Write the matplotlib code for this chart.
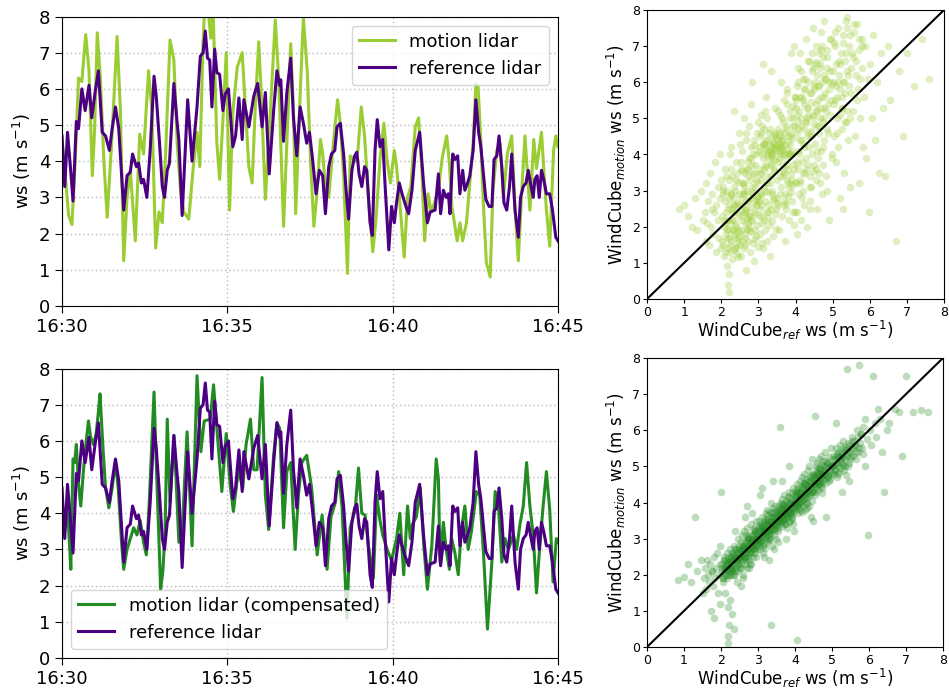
import numpy as np
import matplotlib
matplotlib.use("Agg")
import matplotlib.pyplot as plt
import matplotlib.dates as mdates
from datetime import datetime, timedelta

# ---------------- time series data (seconds after 16:30, wind speed m/s) ----------------
ref_t = [0, 5, 10, 16, 20, 26, 30, 36, 42, 49, 54, 60, 66, 73, 79, 86, 91, 97, 103, 112,
         118, 124, 128, 135, 139, 144, 148, 154, 160, 167, 171, 177, 182, 186, 191, 195, 203, 209, 212, 218,
         228, 236, 245, 251, 256, 260, 264, 268, 272, 277, 281, 286, 292, 296, 302, 310, 315, 321, 327, 330,
         339, 348, 355, 363, 369, 376, 384, 390, 395, 397, 402, 408, 415, 420, 426, 432, 438, 444, 449, 454,
         461, 467, 473, 478, 484, 489, 495, 499, 505, 511, 515, 520, 526, 531, 535, 539, 544, 549, 553, 559,
         563, 568, 572, 577, 582, 586, 593, 598, 603, 607, 612, 617, 623, 629, 635, 641, 649, 656, 663, 668,
         677, 683, 687, 692, 697, 701, 704, 709, 713, 718, 722, 727, 731, 736, 740, 746, 751, 756, 760, 765,
         769, 775, 780, 784, 789, 793, 798, 802, 807, 812, 816, 822, 828, 832, 837, 842, 846, 850, 855, 858,
         862, 866, 870, 874, 879, 885, 890, 896, 900]
ref_ws = [4.7, 3.3, 4.8, 3.7, 2.9, 5.1, 4.9, 6.0, 5.4, 6.1, 5.2, 5.9, 6.5, 4.8, 4.7, 4.3, 4.9, 5.5, 4.9, 2.65,
          3.6, 3.7, 4.2, 3.85, 3.95, 3.4, 3.5, 3.0, 4.3, 6.35, 5.8, 4.5, 3.3, 3.0, 3.75, 3.95, 6.15, 5.05, 4.6, 2.5,
          5.7, 4.0, 5.5, 6.9, 7.0, 7.6, 6.85, 6.8, 5.5, 7.1, 6.45, 6.4, 5.4, 5.85, 6.0, 4.4, 4.7, 5.75, 4.6, 5.7,
          4.95, 5.8, 6.15, 4.95, 5.9, 3.65, 5.4, 6.5, 6.1, 6.25, 4.55, 5.9, 6.85, 5.2, 4.15, 5.5, 5.05, 4.5, 4.8, 4.15,
          3.1, 3.75, 3.6, 2.55, 3.85, 4.2, 4.3, 4.95, 5.05, 4.2, 3.3, 2.4, 3.75, 4.15, 4.25, 3.65, 3.3, 3.85, 3.75, 2.3,
          1.95, 4.3, 5.15, 4.4, 4.6, 3.4, 1.55, 2.75, 2.3, 2.85, 3.4, 3.1, 2.8, 2.55, 3.2, 4.3, 4.8, 3.4, 2.3, 2.6,
          2.65, 3.65, 2.55, 3.2, 3.0, 3.1, 2.55, 4.2, 4.05, 4.15, 3.1, 3.75, 3.2, 3.4, 3.6, 4.3, 5.7, 4.8, 4.4, 3.6,
          2.95, 2.75, 2.75, 4.05, 4.15, 4.7, 3.85, 2.85, 2.65, 3.3, 4.2, 2.65, 1.9, 3.0, 3.3, 3.4, 3.75, 3.4, 3.0, 3.5,
          3.6, 3.0, 3.75, 3.5, 3.1, 3.1, 2.65, 1.9, 1.8]

motion_t = [0, 6, 12, 18, 24, 30, 36, 43, 49, 55, 59, 64, 70, 76, 82, 90, 100, 106, 112, 118,
            124, 133, 141, 148, 157, 163, 170, 176, 182, 188, 196, 203, 209, 215, 221, 230, 238, 245, 250, 256,
            260, 265, 270, 274, 281, 286, 292, 298, 304, 310, 318, 327, 333, 339, 345, 351, 357, 361, 369, 378,
            387, 393, 402, 408, 415, 420, 424, 432, 438, 445, 451, 457, 462, 469, 473, 478, 484, 493, 500, 505,
            511, 518, 523, 532, 537, 543, 549, 556, 564, 570, 577, 584, 590, 596, 603, 607, 613, 621, 627, 633,
            641, 647, 653, 658, 664, 670, 677, 683, 690, 698, 703, 707, 713, 717, 722, 727, 734, 740, 746, 751,
            755, 760, 764, 770, 777, 782, 789, 795, 801, 808, 816, 822, 828, 834, 840, 849, 856, 861, 870, 879,
            885, 892, 896, 900]
motion_ws = [4.6, 3.6, 2.5, 2.25, 4.0, 6.3, 6.2, 7.5, 6.5, 3.6, 4.8, 7.55, 6.2, 4.0, 2.45, 4.5, 7.45, 5.4, 1.25, 3.0,
             3.75, 1.8, 4.75, 4.2, 6.5, 5.4, 1.6, 2.6, 2.3, 4.2, 7.35, 6.8, 4.5, 3.2, 2.6, 2.4, 3.8, 4.8, 3.85, 7.3,
             8.6, 8.2, 7.4, 8.3, 4.5, 3.5, 5.15, 7.0, 2.65, 5.35, 6.6, 7.0, 5.4, 3.85, 3.4, 5.6, 7.3, 6.05, 2.95, 5.35,
             7.9, 6.35, 2.2, 4.5, 7.25, 5.4, 2.55, 5.8, 7.95, 6.5, 4.0, 2.2, 3.0, 4.6, 4.2, 3.3, 3.0, 4.6, 5.7, 5.05,
             3.6, 0.9, 4.15, 4.0, 4.3, 5.5, 4.7, 3.0, 1.5, 2.45, 4.05, 5.05, 4.0, 3.4, 4.3, 3.85, 2.85, 1.35, 3.0, 3.3,
             4.95, 5.2, 3.75, 1.8, 3.1, 2.6, 2.9, 3.2, 4.1, 4.7, 3.95, 2.8, 2.2, 1.8, 2.3, 1.8, 2.3, 3.4, 4.5, 6.15,
             6.05, 4.6, 3.0, 1.2, 0.8, 3.2, 4.3, 4.5, 3.0, 4.2, 4.7, 2.7, 1.25, 3.1, 4.7, 2.65, 4.6, 3.8, 4.8, 2.65,
             1.65, 4.3, 4.7, 4.4]

comp_t = [0, 4, 8, 12, 16, 20, 23, 26, 30, 34, 39, 44, 48, 52, 57, 62, 66, 69, 74, 79,
          85, 91, 97, 102, 108, 112, 118, 124, 130, 136, 142, 148, 153, 158, 167, 172, 179, 183, 187, 191,
          196, 203, 207, 212, 218, 227, 236, 245, 252, 258, 269, 275, 281, 290, 298, 305, 311, 320, 328, 334,
          342, 348, 354, 363, 369, 375, 384, 390, 395, 402, 408, 415, 423, 429, 435, 444, 453, 463, 472, 481,
          488, 496, 502, 508, 517, 523, 532, 538, 544, 550, 556, 565, 571, 577, 582, 590, 598, 607, 613, 620,
          627, 632, 636, 643, 650, 657, 663, 671, 679, 683, 686, 692, 697, 703, 707, 713, 719, 725, 731, 737,
          743, 752, 758, 765, 772, 780, 786, 792, 798, 804, 810, 819, 825, 831, 837, 843, 849, 855, 861, 867,
          873, 879, 885, 891, 897, 900]
comp_ws = [4.3, 3.4, 4.2, 3.6, 2.45, 5.5, 5.4, 5.9, 4.8, 4.2, 5.2, 6.0, 6.55, 6.1, 5.9, 6.2, 6.8, 7.3, 5.9, 4.7,
           4.15, 4.7, 5.4, 4.7, 3.2, 2.45, 3.0, 3.3, 3.6, 3.4, 3.8, 3.2, 2.85, 4.2, 7.35, 4.95, 1.9, 2.4, 3.5, 6.6,
           4.3, 6.15, 4.95, 3.2, 3.5, 6.25, 3.1, 7.8, 5.7, 6.55, 6.6, 7.55, 6.35, 4.6, 6.2, 4.8, 4.05, 5.2, 4.7, 5.9,
           6.6, 5.2, 5.2, 7.75, 4.5, 3.55, 5.6, 6.5, 6.35, 3.6, 5.15, 5.4, 3.0, 4.5, 5.4, 5.6, 4.7, 2.85, 3.95, 2.45,
           3.9, 4.3, 5.15, 4.2, 1.1, 3.6, 4.1, 5.25, 4.0, 3.95, 3.1, 2.2, 4.5, 3.8, 3.4, 3.0, 2.7, 3.3, 4.0, 2.3,
           4.2, 3.3, 3.7, 3.9, 4.7, 3.0, 1.9, 3.1, 5.5, 4.95, 2.65, 3.75, 3.0, 2.45, 3.3, 2.9, 2.3, 3.6, 4.2, 3.0,
           3.5, 4.6, 4.5, 2.85, 0.8, 2.65, 4.6, 4.2, 2.65, 3.3, 3.0, 3.4, 3.0, 3.7, 4.2, 5.4, 4.2, 3.4, 1.8, 3.1,
           4.2, 5.15, 4.1, 2.1, 3.3, 3.2]

# ---------------- scatter data (ref ws vs motion ws / compensated ws) ----------------
scatter_ref = [
    0.85, 1.0, 1.1, 1.2, 1.3, 1.35, 1.45, 1.5,
    1.55, 1.58, 1.6, 1.62, 1.65, 1.68, 1.7, 1.72, 1.75, 1.78, 1.8, 1.82, 1.85, 1.87, 1.9, 1.92, 1.94, 1.96, 1.97, 1.98, 1.99, 1.76,
    2.02, 2.04, 2.05, 2.07, 2.08, 2.1, 2.11, 2.12, 2.13, 2.15, 2.16, 2.17, 2.18, 2.19, 2.2, 2.2, 2.21, 2.22, 2.22, 2.23,
    2.24, 2.25, 2.26, 2.27, 2.28, 2.29, 2.3, 2.31, 2.32, 2.33, 2.34, 2.35, 2.36, 2.37, 2.38, 2.39, 2.4, 2.41, 2.42, 2.43,
    2.44, 2.45, 2.46, 2.47, 2.48, 2.49, 2.25, 2.15, 2.35, 2.45,
    2.51, 2.52, 2.53, 2.54, 2.55, 2.56, 2.57, 2.58, 2.59, 2.6, 2.61, 2.62, 2.63, 2.64, 2.65, 2.66, 2.67, 2.68, 2.69, 2.7,
    2.71, 2.72, 2.73, 2.74, 2.75, 2.76, 2.77, 2.78, 2.79, 2.8, 2.81, 2.82, 2.83, 2.84, 2.85, 2.86, 2.87, 2.88, 2.89, 2.9,
    2.91, 2.92, 2.93, 2.94, 2.95, 2.96, 2.97, 2.98, 2.99, 2.55, 2.65, 2.75, 2.85, 2.95, 2.6, 2.7, 2.8, 2.9, 2.58, 2.72,
    3.01, 3.02, 3.03, 3.04, 3.05, 3.06, 3.07, 3.08, 3.09, 3.1, 3.11, 3.12, 3.13, 3.14, 3.15, 3.16, 3.17, 3.18, 3.19, 3.2,
    3.21, 3.22, 3.23, 3.24, 3.25, 3.26, 3.27, 3.28, 3.29, 3.3, 3.31, 3.32, 3.33, 3.34, 3.35, 3.36, 3.37, 3.38, 3.39, 3.4,
    3.41, 3.42, 3.43, 3.44, 3.45, 3.46, 3.47, 3.48, 3.49, 3.05, 3.15, 3.25, 3.35, 3.45, 3.1, 3.2, 3.3, 3.4, 3.12, 3.38,
    3.51, 3.52, 3.53, 3.54, 3.55, 3.56, 3.57, 3.58, 3.59, 3.6, 3.61, 3.62, 3.63, 3.64, 3.65, 3.66, 3.67, 3.68, 3.69, 3.7,
    3.71, 3.72, 3.73, 3.74, 3.75, 3.76, 3.77, 3.78, 3.79, 3.8, 3.81, 3.82, 3.83, 3.84, 3.85, 3.86, 3.87, 3.88, 3.89, 3.9,
    3.91, 3.92, 3.93, 3.94, 3.95, 3.96, 3.97, 3.98, 3.99, 3.55, 3.65, 3.75, 3.85, 3.95, 3.6,
    4.01, 4.02, 4.03, 4.04, 4.05, 4.06, 4.07, 4.08, 4.09, 4.1, 4.11, 4.12, 4.13, 4.14, 4.15, 4.16, 4.17, 4.18, 4.19, 4.2,
    4.21, 4.22, 4.23, 4.24, 4.25, 4.26, 4.27, 4.28, 4.29, 4.3, 4.31, 4.32, 4.33, 4.34, 4.35, 4.36, 4.37, 4.38, 4.39, 4.4,
    4.41, 4.42, 4.43, 4.44, 4.45, 4.46, 4.47, 4.48, 4.49, 4.05,
    4.51, 4.52, 4.53, 4.54, 4.55, 4.56, 4.57, 4.58, 4.59, 4.6, 4.61, 4.62, 4.63, 4.64, 4.65, 4.66, 4.67, 4.68, 4.69, 4.7,
    4.71, 4.72, 4.73, 4.74, 4.75, 4.76, 4.77, 4.78, 4.79, 4.8, 4.82, 4.84, 4.86, 4.88, 4.9, 4.92, 4.94, 4.96, 4.98, 4.99,
    4.55, 4.85,
    5.02, 5.04, 5.05, 5.07, 5.09, 5.1, 5.12, 5.14, 5.15, 5.17, 5.19, 5.2, 5.22, 5.24, 5.25, 5.27, 5.29, 5.3, 5.32, 5.34,
    5.35, 5.37, 5.39, 5.4, 5.42, 5.44, 5.45, 5.47, 5.49, 5.12, 5.28, 5.4,
    5.52, 5.55, 5.58, 5.6, 5.63, 5.65, 5.68, 5.7, 5.72, 5.75, 5.78, 5.8, 5.83, 5.85, 5.88, 5.9, 5.94, 5.97,
    6.02, 6.06, 6.1, 6.15, 6.2, 6.25, 6.3, 6.35, 6.4, 6.48,
    6.55, 6.7, 6.8, 6.9, 7.0, 7.2, 7.4, 7.6]

scatter_motion = [
    2.5, 2.6, 2.3, 2.0, 2.8, 1.9, 3.0, 2.2,
    2.4, 1.6, 3.2, 2.1, 2.7, 1.5, 3.5, 2.0, 2.9, 1.8, 2.4, 3.8, 1.3, 2.6, 3.1, 2.2, 1.7, 4.0, 2.8, 1.4, 3.3, 2.5,
    2.3, 1.5, 3.1, 2.0, 1.2, 2.7, 3.6, 1.8, 2.4, 0.9, 3.0, 2.2, 1.4, 0.4, 0.2, 2.6, 1.7, 3.3, 0.7, 2.1,
    1.3, 2.9, 4.2, 1.6, 2.5, 1.1, 3.4, 1.9, 2.8, 1.35, 2.2, 5.2, 1.7, 3.0, 2.4, 1.45, 3.8, 2.05, 1.25, 2.65,
    1.85, 3.25, 1.55, 4.6, 2.35, 1.75, 2.9, 1.95, 2.6, 1.15,
    1.5, 2.8, 3.6, 1.2, 2.2, 4.1, 1.9, 2.6, 3.2, 1.4, 2.9, 5.0, 2.1, 3.5, 1.7, 2.4, 4.4, 0.8, 3.0, 1.95,
    2.7, 3.8, 1.6, 2.3, 4.8, 2.0, 3.3, 1.3, 2.55, 3.9, 1.85, 2.95, 6.0, 2.15, 3.45, 1.55, 2.75, 4.25, 1.05, 3.1,
    2.35, 3.7, 1.75, 2.6, 4.6, 2.05, 3.25, 1.45, 2.85, 3.55, 2.45, 1.9, 4.0, 2.7, 3.15, 2.25, 5.4, 1.65, 2.9, 3.6,
    4.2, 2.3, 3.6, 1.8, 4.5, 2.9, 3.3, 5.1, 2.1, 4.0, 2.6, 1.4, 4.3, 3.1, 2.2, 4.7, 3.7, 1.9, 2.7, 4.1,
    5.6, 2.4, 3.4, 1.6, 4.4, 2.95, 3.9, 2.05, 4.6, 3.2, 1.2, 4.25, 2.5, 3.75, 6.3, 2.15, 4.05, 3.0, 1.75, 4.35,
    2.8, 3.55, 4.15, 2.35, 5.3, 3.85, 1.95, 4.45, 2.65, 3.45, 4.3, 2.25, 3.95, 4.55, 1.55, 3.65, 4.1, 2.75, 6.5, 4.0,
    4.3, 2.6, 3.8, 5.2, 4.1, 1.9, 3.4, 4.6, 2.9, 4.2, 6.0, 3.1, 4.4, 2.3, 3.7, 4.9, 4.0, 2.7, 5.5, 3.5,
    4.25, 1.6, 3.9, 4.7, 2.5, 4.15, 3.3, 5.8, 2.85, 4.35, 3.6, 4.05, 2.2, 5.0, 3.95, 4.5, 2.95, 3.45, 6.8, 4.1,
    3.15, 5.35, 2.4, 4.45, 3.75, 2.05, 4.8, 3.25, 5.6, 4.2, 3.55, 2.65, 4.0, 7.0, 4.3,
    5.5, 3.2, 4.6, 2.4, 5.9, 4.1, 3.6, 6.4, 2.9, 5.2, 4.4, 3.3, 6.8, 5.0, 2.2, 4.8, 5.6, 3.8, 4.3, 6.1,
    3.0, 5.4, 4.7, 2.6, 5.8, 3.5, 4.9, 7.2, 3.9, 5.3, 4.5, 2.0, 6.0, 3.7, 5.1, 4.2, 6.6, 3.4, 5.7, 2.7,
    4.65, 5.45, 3.1, 6.3, 4.0, 5.05, 7.5, 3.55, 4.85, 1.8,
    5.8, 4.3, 6.5, 3.6, 5.2, 7.0, 4.8, 2.5, 6.2, 5.5, 3.9, 6.8, 4.6, 5.9, 3.2, 6.4, 5.0, 7.4, 4.1, 5.6,
    2.9, 6.0, 4.9, 6.7, 3.7, 5.3, 7.7, 4.4, 6.1, 5.7, 3.4, 6.9, 4.7, 5.4, 2.2, 6.3, 5.1, 7.2, 4.0, 5.95,
    6.55, 3.0,
    6.0, 4.5, 7.1, 5.5, 3.8, 6.5, 5.0, 7.5, 4.2, 6.2, 5.8, 2.8, 6.8, 5.3, 4.7, 7.3, 6.0, 3.5, 5.7, 6.6,
    4.9, 7.7, 5.2, 6.3, 4.4, 7.0, 5.9, 3.1, 6.4, 5.6, 2.5, 7.8,
    6.8, 5.2, 7.4, 4.5, 6.2, 7.6, 5.8, 3.2, 6.9, 5.0, 7.2, 6.4, 4.2, 5.6, 7.0, 3.9, 6.1, 2.4,
    6.5, 5.0, 7.3, 4.4, 6.0, 3.5, 6.8, 5.3, 3.4, 7.0,
    5.5, 1.6, 6.3, 4.5, 6.8, 5.9, 7.2, 6.1]

scatter_comp = [
    1.85, 1.95, 2.3, 1.8, 3.6, 2.1, 2.4, 1.5,
    1.9, 2.2, 1.6, 2.4, 2.0, 1.8, 2.3, 1.0, 2.1, 1.7, 0.8, 2.5, 1.9, 2.2, 2.6, 1.5, 2.0, 2.8, 2.3, 1.2, 4.3, 2.1,
    2.1, 2.3, 1.9, 2.5, 2.2, 2.0, 2.4, 1.5, 2.2, 2.6, 1.9, 2.3, 1.1, 2.1, 0.3, 0.1, 2.0, 2.4, 0.6, 2.2,
    1.3, 2.7, 2.0, 2.3, 2.5, 2.1, 0.9, 2.4, 2.2, 2.6, 2.0, 2.8, 2.3, 2.1, 3.2, 2.5, 2.2, 2.7, 2.4, 1.8,
    2.6, 2.3, 3.0, 2.1, 2.5, 2.8, 2.35, 2.15, 0.5, 2.45,
    2.5, 2.2, 2.9, 2.6, 2.3, 2.7, 2.4, 3.1, 2.0, 2.6, 2.8, 2.5, 3.2, 2.3, 2.7, 2.9, 2.4, 2.6, 3.3, 2.2,
    2.8, 2.5, 3.0, 2.7, 2.4, 3.1, 2.6, 2.9, 2.3, 2.75, 3.4, 2.6, 2.9, 2.8, 3.1, 2.5, 3.0, 2.7, 3.3, 2.85,
    3.2, 2.6, 2.95, 3.5, 2.8, 3.1, 2.7, 3.0, 2.9, 1.7, 3.6, 2.2, 3.7, 2.5, 1.9, 3.9, 2.3, 3.25, 2.65, 3.05,
    3.0, 3.3, 2.8, 3.5, 3.1, 2.7, 3.4, 3.2, 2.9, 3.6, 3.05, 3.35, 2.6, 3.15, 3.45, 2.85, 3.25, 3.55, 3.1, 2.75,
    3.7, 3.3, 3.0, 3.5, 2.9, 3.4, 3.2, 3.65, 3.05, 3.35, 2.95, 3.75, 3.25, 3.5, 4.0, 3.15, 3.45, 2.8, 3.6, 3.3,
    3.85, 3.1, 3.4, 2.7, 3.55, 3.25, 3.9, 3.45, 3.0, 4.2, 2.5, 3.8, 0.6, 3.6, 4.4, 3.2, 2.4, 4.6, 3.35, 3.7,
    3.5, 3.8, 3.3, 3.7, 3.6, 3.9, 3.4, 3.75, 3.55, 4.0, 3.45, 3.85, 3.65, 3.35, 4.1, 3.7, 3.5, 3.95, 3.6, 4.2,
    3.8, 3.4, 3.75, 3.55, 4.05, 3.65, 3.9, 3.3, 3.85, 3.7, 4.15, 3.6, 3.95, 3.45, 4.3, 3.75, 3.5, 4.0, 3.8, 3.65,
    4.25, 3.9, 3.55, 4.4, 3.7, 4.0, 3.85, 3.2, 4.1, 2.9, 4.6, 3.0, 5.0, 3.4, 6.1,
    4.0, 4.3, 3.8, 4.2, 3.9, 4.5, 4.1, 3.7, 4.4, 4.0, 4.25, 3.85, 4.6, 4.15, 3.95, 4.35, 4.05, 4.7, 3.75, 4.45,
    4.2, 3.9, 4.55, 4.1, 4.8, 4.3, 3.8, 4.5, 4.0, 4.65, 4.25, 3.85, 4.4, 4.9, 4.15, 4.6, 3.9, 4.35, 5.0, 4.2,
    4.7, 4.45, 3.6, 4.55, 4.3, 5.2, 4.05, 3.5, 4.75, 0.2,
    4.5, 4.8, 4.3, 4.7, 4.6, 5.0, 4.4, 4.9, 4.55, 5.1, 4.65, 4.35, 4.85, 4.75, 5.2, 4.5, 4.95, 4.6, 5.3, 4.7,
    4.45, 5.05, 4.8, 4.25, 5.15, 4.9, 4.6, 5.0, 4.75, 5.4, 4.85, 4.55, 5.1, 4.95, 4.7, 5.25, 4.65, 5.5, 5.0, 4.8,
    6.4, 3.6,
    5.0, 5.3, 4.8, 5.2, 4.9, 5.5, 5.1, 4.7, 5.4, 5.0, 5.25, 4.85, 5.6, 5.15, 4.95, 5.35, 5.05, 5.7, 4.9, 5.45,
    5.2, 4.75, 5.55, 5.3, 5.0, 5.65, 5.1, 4.6, 5.4, 6.2, 4.3, 7.7,
    5.5, 5.8, 5.3, 5.7, 5.6, 5.2, 6.0, 5.4, 7.8, 5.65, 5.9, 5.5, 6.1, 5.35, 6.3, 5.0, 5.75, 3.1,
    6.0, 5.6, 7.5, 6.2, 5.8, 6.6, 6.3, 5.4, 4.3, 6.0,
    6.2, 6.6, 6.5, 5.3, 7.5, 6.5, 6.55, 6.5]

# additional points read from the dense core of the clouds
core_ref = [
    2.03, 2.06, 2.09, 2.12, 2.14, 2.17, 2.19, 2.05, 2.11, 2.16,
    2.21, 2.23, 2.26, 2.28, 2.31, 2.33, 2.36, 2.38, 2.24, 2.29, 2.34, 2.39,
    2.41, 2.43, 2.46, 2.48, 2.51, 2.53, 2.56, 2.58, 2.44, 2.49, 2.54, 2.59,
    2.61, 2.63, 2.66, 2.68, 2.71, 2.73, 2.76, 2.78, 2.64, 2.69, 2.74, 2.79, 2.67,
    2.81, 2.83, 2.86, 2.88, 2.91, 2.93, 2.96, 2.98, 2.84, 2.89, 2.94, 2.99, 2.87,
    3.01, 3.03, 3.06, 3.08, 3.11, 3.13, 3.16, 3.18, 3.04, 3.09, 3.14, 3.19, 3.07, 3.17,
    3.21, 3.23, 3.26, 3.28, 3.31, 3.33, 3.36, 3.38, 3.24, 3.29, 3.34, 3.39, 3.27, 3.37,
    3.41, 3.43, 3.46, 3.48, 3.51, 3.53, 3.56, 3.58, 3.44, 3.49, 3.54, 3.59, 3.47, 3.57,
    3.61, 3.63, 3.66, 3.68, 3.71, 3.73, 3.76, 3.78, 3.64, 3.69, 3.74, 3.79, 3.67, 3.77,
    3.81, 3.83, 3.86, 3.88, 3.91, 3.93, 3.96, 3.98, 3.84, 3.89, 3.94, 3.99, 3.87,
    4.01, 4.03, 4.06, 4.08, 4.11, 4.13, 4.16, 4.18, 4.04, 4.09, 4.14, 4.19, 4.07,
    4.21, 4.23, 4.26, 4.28, 4.31, 4.33, 4.36, 4.38, 4.24, 4.29, 4.34, 4.39,
    4.41, 4.43, 4.46, 4.48, 4.51, 4.53, 4.56, 4.58, 4.44, 4.49, 4.54, 4.59,
    4.61, 4.63, 4.66, 4.68, 4.71, 4.73, 4.76, 4.78, 4.64, 4.69, 4.74,
    4.81, 4.83, 4.86, 4.88, 4.91, 4.93, 4.96, 4.98, 4.84, 4.89,
    5.01, 5.04, 5.07, 5.1, 5.13, 5.16, 5.19, 5.06, 5.14,
    5.21, 5.24, 5.27, 5.3, 5.33, 5.36, 5.39, 5.26,
    5.42, 5.46, 5.5, 5.54, 5.58, 5.48,
    5.62, 5.66, 5.7, 5.74, 5.78]
core_motion = [
    1.6, 2.9, 2.2, 3.4, 1.3, 2.5, 1.9, 3.0, 2.1, 1.7,
    2.8, 1.5, 3.6, 2.2, 1.9, 3.1, 2.6, 1.4, 4.0, 2.4, 1.8, 3.3,
    2.0, 3.5, 1.7, 2.9, 4.3, 2.3, 1.6, 3.2, 2.6, 1.9, 3.8, 2.4,
    3.0, 1.8, 4.6, 2.5, 3.4, 2.1, 3.9, 2.8, 1.5, 3.6, 2.3, 4.2, 2.7,
    2.2, 3.7, 2.9, 4.4, 1.9, 3.3, 2.6, 4.9, 3.1, 2.4, 4.0, 2.8, 3.5,
    4.1, 2.7, 3.5, 4.6, 2.3, 3.9, 4.3, 3.0, 2.5, 4.8, 3.6, 4.2, 2.9, 5.2,
    4.4, 3.2, 4.0, 2.6, 4.7, 3.7, 4.2, 2.9, 5.0, 4.1, 3.4, 4.5, 2.4, 3.9,
    4.3, 3.6, 4.6, 4.1, 2.8, 4.4, 3.9, 5.1, 4.2, 3.3, 4.7, 4.0, 2.5, 4.5,
    4.2, 5.0, 3.4, 4.6, 2.9, 4.0, 5.4, 3.7, 4.4, 2.6, 4.8, 3.2, 4.1, 5.7,
    4.5, 3.1, 5.2, 4.0, 2.7, 4.8, 3.6, 5.6, 4.3, 3.3, 5.0, 2.4, 4.6,
    5.3, 3.8, 4.7, 6.0, 3.2, 5.6, 4.4, 2.8, 5.1, 4.0, 6.3, 3.5, 4.9,
    5.5, 4.2, 6.1, 3.6, 5.0, 6.6, 4.6, 3.1, 5.8, 4.9, 5.3, 2.5,
    5.7, 4.5, 6.4, 5.1, 3.7, 6.0, 5.4, 4.1, 6.8, 5.9, 3.3, 5.2,
    5.9, 4.8, 6.5, 5.3, 7.0, 4.2, 6.2, 5.6, 3.5, 6.9, 5.0,
    6.1, 5.2, 6.7, 4.6, 5.8, 7.2, 5.5, 3.9, 6.4, 6.0,
    6.3, 5.4, 7.0, 5.9, 4.6, 6.6, 5.1, 7.4, 6.0,
    6.5, 5.6, 7.1, 6.0, 4.9, 6.8, 7.5, 5.3,
    6.2, 7.3, 5.7, 6.7, 7.6, 5.0,
    6.6, 5.5, 7.2, 6.1, 7.0]
core_comp = [
    2.2, 1.9, 2.4, 2.1, 2.3, 2.0, 2.5, 1.8, 2.2, 2.35,
    2.3, 2.1, 2.5, 2.2, 2.6, 2.4, 2.0, 2.7, 2.35, 2.15, 2.55, 2.45,
    2.4, 2.6, 2.3, 2.7, 2.5, 2.2, 2.8, 2.55, 2.35, 2.65, 2.45, 2.75,
    2.6, 2.8, 2.5, 2.9, 2.7, 3.0, 2.6, 2.85, 2.45, 2.75, 2.95, 2.65, 3.1,
    2.8, 3.0, 2.7, 3.1, 2.9, 3.2, 2.85, 3.05, 2.95, 2.75, 3.15, 3.0, 2.9,
    3.0, 3.2, 2.9, 3.3, 3.1, 2.8, 3.25, 3.05, 3.35, 2.95, 3.15, 3.4, 3.0, 3.2,
    3.2, 3.4, 3.1, 3.5, 3.3, 3.0, 3.45, 3.25, 3.55, 3.15, 3.35, 3.6, 3.2, 3.4,
    3.4, 3.6, 3.3, 3.7, 3.5, 3.2, 3.65, 3.45, 3.75, 3.35, 3.55, 3.8, 3.4, 3.6,
    3.6, 3.8, 3.5, 3.9, 3.7, 3.4, 3.85, 3.65, 3.95, 3.55, 3.75, 4.0, 3.6, 3.8,
    3.8, 4.0, 3.7, 4.1, 3.9, 3.6, 4.05, 3.85, 4.15, 3.75, 3.95, 4.2, 3.8,
    4.0, 4.2, 3.9, 4.3, 4.1, 3.8, 4.25, 4.05, 4.35, 3.95, 4.15, 4.4, 4.0,
    4.2, 4.4, 4.1, 4.5, 4.3, 4.0, 4.45, 4.25, 4.55, 4.15, 4.35, 4.6,
    4.4, 4.6, 4.3, 4.7, 4.5, 4.2, 4.65, 4.45, 4.75, 4.35, 4.55, 4.8,
    4.6, 4.8, 4.5, 4.9, 4.7, 4.4, 4.85, 4.65, 4.95, 4.55, 4.75,
    4.8, 5.0, 4.7, 5.1, 4.9, 4.6, 5.05, 4.85, 5.15, 4.75,
    5.0, 5.2, 4.9, 5.3, 5.1, 4.8, 5.25, 5.05, 5.35,
    5.2, 5.4, 5.1, 5.5, 5.3, 5.0, 5.45, 5.25,
    5.4, 5.6, 5.3, 5.7, 5.5, 5.2,
    5.6, 5.4, 5.8, 5.5, 5.9]

# ---------------- styling ----------------
c_motion = "#9acd32"
c_ref = "#4b0082"
c_comp = "#228b22"

plt.rcParams["font.family"] = ["DejaVu Sans"]

fig = plt.figure(figsize=(9.49, 6.91), dpi=100)
W, H = 949.0, 691.0
ax1 = fig.add_axes([62 / W, 1 - 306 / H, 496 / W, 289.5 / H])
ax2 = fig.add_axes([62 / W, 1 - 658 / H, 496 / W, 289.5 / H])
ax3 = fig.add_axes([647 / W, 1 - 299 / H, 297 / W, 289 / H])
ax4 = fig.add_axes([647 / W, 1 - 647 / H, 296 / W, 289 / H])

base = datetime(2000, 1, 1, 16, 30)


def to_dates(secs):
    return mdates.date2num([base + timedelta(seconds=float(s)) for s in secs])


def style_ts(ax, legend_loc):
    ax.set_ylim(0, 8)
    ax.set_xlim(mdates.date2num(base), mdates.date2num(base + timedelta(minutes=15)))
    ax.xaxis.set_major_locator(mdates.MinuteLocator(byminute=[30, 35, 40, 45]))
    ax.xaxis.set_major_formatter(mdates.DateFormatter("%H:%M"))
    ax.set_yticks(range(0, 9))
    ax.tick_params(labelsize=13, length=5)
    ax.grid(True, linestyle=(0, (1, 2)), color="#b8b8b8", linewidth=1.0)
    ax.set_ylabel("ws (m s$^{-1}$)", fontsize=13)
    ax.legend(loc=legend_loc, fontsize=13, framealpha=0.8)


ax1.plot(to_dates(motion_t), motion_ws, color=c_motion, lw=2.2, label="motion lidar")
ax1.plot(to_dates(ref_t), ref_ws, color=c_ref, lw=2.2, label="reference lidar")
style_ts(ax1, "upper right")

ax2.plot(to_dates(comp_t), comp_ws, color=c_comp, lw=2.2, label="motion lidar (compensated)")
ax2.plot(to_dates(ref_t), ref_ws, color=c_ref, lw=2.2, label="reference lidar")
style_ts(ax2, "lower left")


def style_sc(ax, ys, ys_core, color, alpha):
    ax.scatter(scatter_ref + core_ref, ys + ys_core, s=30, color=color, alpha=alpha, linewidths=0)
    ax.plot([0, 8], [0, 8], color="black", lw=1.5)
    ax.set_xlim(0, 8)
    ax.set_ylim(0, 8)
    ax.set_xticks(range(0, 9))
    ax.set_yticks(range(0, 9))
    ax.tick_params(labelsize=9, length=3, pad=2)
    ax.set_xlabel("WindCube$_{ref}$ ws (m s$^{-1}$)", fontsize=12, labelpad=0)
    ax.set_ylabel("WindCube$_{motion}$ ws (m s$^{-1}$)", fontsize=12, labelpad=3)


style_sc(ax3, scatter_motion, core_motion, c_motion, 0.3)
style_sc(ax4, scatter_comp, core_comp, c_comp, 0.3)

fig.savefig("out.png", dpi=100)
